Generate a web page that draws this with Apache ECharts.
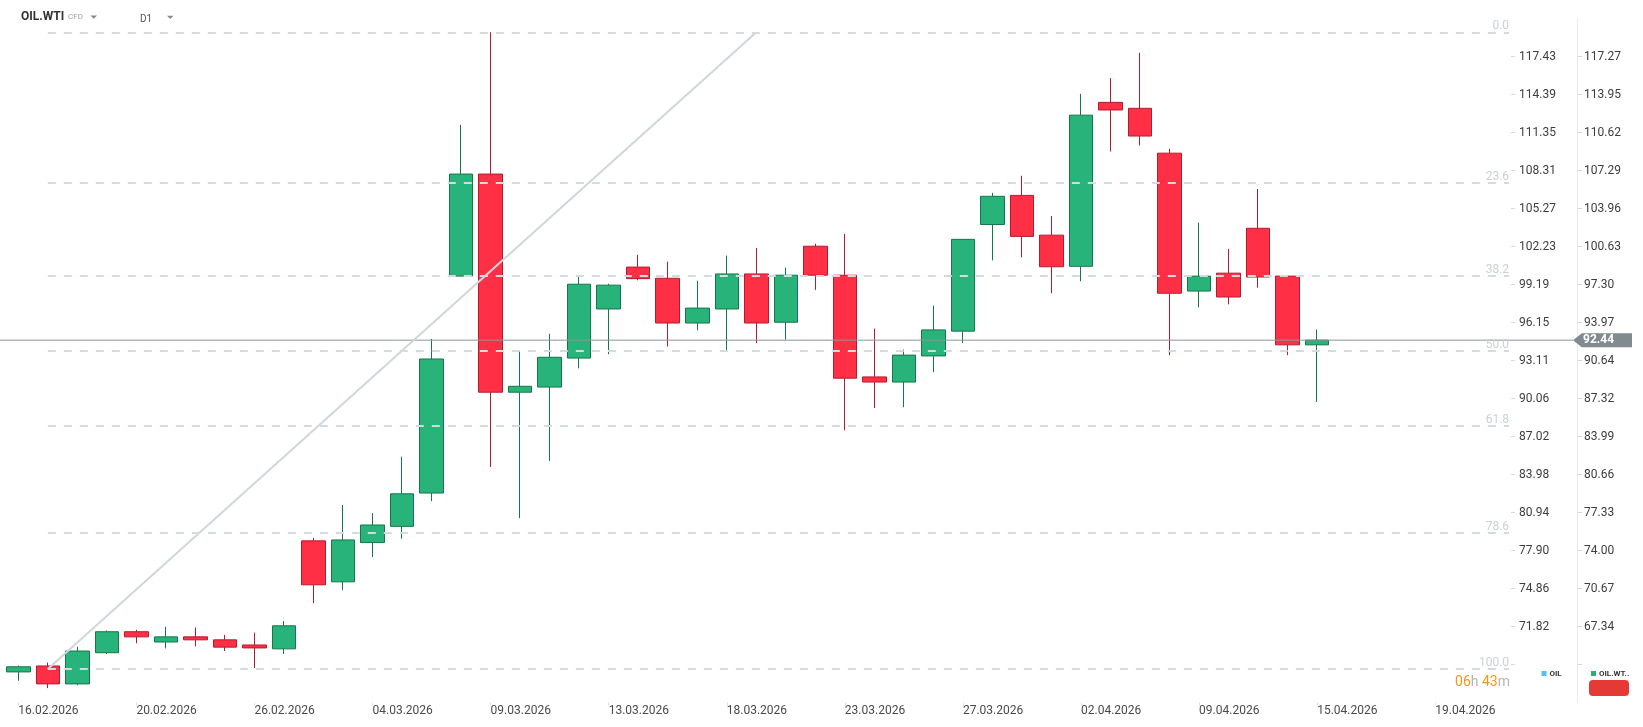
<!DOCTYPE html>
<html>
<head>
<meta charset="utf-8">
<script src="https://cdn.jsdelivr.net/npm/echarts@6/dist/echarts.min.js"></script>
<style>
html,body{margin:0;padding:0;background:#fff;}
#chart{width:1643px;height:727px;}
</style>
</head>
<body>
<div id="chart"></div>
<script>
// ---- data ----
const dates = ['16.02.2026','17.02.2026','18.02.2026','19.02.2026','20.02.2026','23.02.2026','24.02.2026','25.02.2026',
  '26.02.2026','27.02.2026','02.03.2026','03.03.2026','04.03.2026','05.03.2026','06.03.2026','08.03.2026',
  '09.03.2026','10.03.2026','11.03.2026','12.03.2026','13.03.2026','15.03.2026','16.03.2026','17.03.2026',
  '18.03.2026','19.03.2026','20.03.2026','22.03.2026','23.03.2026','24.03.2026','25.03.2026','26.03.2026',
  '27.03.2026','30.03.2026','31.03.2026','01.04.2026','02.04.2026','06.04.2026','07.04.2026','08.04.2026',
  '09.04.2026','10.04.2026','13.04.2026','14.04.2026','15.04.2026','16.04.2026','17.04.2026','18.04.2026',
  '19.04.2026','20.04.2026','21.04.2026'];
const opens  = [63.38,63.90,62.33,65.06,66.90,66.00,66.45,66.19,65.74,65.40,74.86,71.27,74.71,76.13,79.05,98.05,
  106.99,87.88,88.33,90.87,95.17,98.84,97.86,93.94,95.17,98.24,94.01,100.67,98.13,89.22,88.77,91.06,
  93.23,102.57,105.12,101.64,98.91,113.27,112.75,108.82,96.74,98.31,102.24,98.05,92.03];
const closes = [63.83,62.33,65.21,66.90,66.45,66.45,66.19,65.55,65.48,67.42,71.01,74.94,76.25,78.98,90.79,106.99,
  87.88,88.40,90.94,97.34,97.26,97.83,93.94,95.25,98.24,93.94,98.13,98.13,89.11,88.77,91.13,93.34,
  101.27,105.04,101.53,98.87,112.15,112.60,110.32,96.55,98.05,96.22,97.97,92.03,92.44];
const lows   = [62.60,61.96,62.22,64.95,65.89,65.44,65.62,65.21,63.72,64.95,69.40,70.56,73.44,75.05,78.34,98.05,
  81.33,76.84,81.86,89.97,91.21,97.68,91.88,93.30,91.58,92.18,92.48,96.85,84.55,86.49,86.57,89.63,
  92.18,99.43,99.70,96.55,97.60,108.97,109.49,91.13,95.32,95.58,97.04,91.13,87.02];
const highs  = [63.94,64.20,65.59,67.01,67.08,67.34,67.27,66.63,66.82,67.83,75.12,78.00,77.29,82.23,92.55,111.29,
  119.41,91.50,93.00,98.05,97.38,99.92,99.32,97.64,99.85,100.52,98.80,100.89,101.75,93.45,91.62,95.47,
  101.27,105.34,106.84,103.32,114.02,115.40,117.61,109.20,102.73,100.44,105.68,98.05,93.38];
const oilTicks = [68.78,71.82,74.86,77.90,80.94,83.98,87.02,90.06,93.11,96.15,99.19,102.23,105.27,108.31,111.35,114.39,117.43];
const wtiTicks = [64.01,67.34,70.67,74.00,77.33,80.66,83.99,87.32,90.64,93.97,97.30,100.63,103.96,107.29,110.62,113.95,117.27];
const fibLevels = [0, 23.6, 38.2, 50, 61.8, 78.6, 100];
const fibHigh = 119.41, fibLow = 63.63;
const trendStart = [1, 63.63], trendEnd = [25, 119.41];
const lastPrice = 92.44;

// ---- build ----
const candleData = closes.map((c, i) => [opens[i], c, lows[i], highs[i]]);
const fibPrice = p => fibHigh - p / 100 * (fibHigh - fibLow);
const font = 'Roboto, "Noto Sans", sans-serif';

const chart = echarts.init(document.getElementById('chart'), null, {renderer: 'canvas'});
chart.setOption({
  animation: false,
  backgroundColor: '#ffffff',
  textStyle: {fontFamily: font},
  grid: [
    {left: 3.54, right: 133.93, top: 18.7, bottom: 24.3, containLabel: false, outerBoundsMode: 'none'},
    {left: 0, right: 70, top: 18.7, bottom: 24.3, containLabel: false, outerBoundsMode: 'none'}
  ],
  legend: [
    {left: 1541.5, top: 669.5, itemWidth: 5, itemHeight: 5, padding: 0, selectedMode: false,
     data: [{name: 'OIL', icon: 'rect', itemStyle: {color: '#4fc3f7', borderWidth: 0}}],
     textStyle: {fontSize: 8, fontWeight: 'bold', color: '#333', fontFamily: font, padding: [0, 0, 0, -2]}},
    {left: 1591, top: 669.5, itemWidth: 5, itemHeight: 5, padding: 0, selectedMode: false,
     data: [{name: 'OIL.WTI', icon: 'rect', itemStyle: {color: '#26b276', borderWidth: 0}}],
     formatter: n => n.slice(0, 6) + '..',
     textStyle: {fontSize: 8, fontWeight: 'bold', color: '#333', fontFamily: font, padding: [0, 0, 0, -2]}}
  ],
  xAxis: [
    {type: 'category', gridIndex: 0, data: dates, boundaryGap: true,
     axisLine: {show: false, onZero: false},
     axisTick: {show: true, interval: 3, alignWithLabel: true, length: 3, lineStyle: {color: '#dedede'}},
     axisLabel: {interval: 3, align: 'left', margin: 2, color: '#4a4a4a', fontSize: 12, fontFamily: font},
     splitLine: {show: false}},
    {type: 'value', gridIndex: 0, min: -0.5, max: 50.5, show: false, axisTick: {show: false}, axisLine: {show: false, onZero: false}, axisLabel: {show: false}, splitLine: {show: false}},
    {type: 'value', gridIndex: 1, min: 0, max: 1, show: false, axisTick: {show: false}, axisLine: {show: false, onZero: false}, axisLabel: {show: false}, splitLine: {show: false}}
  ],
  yAxis: [
    {type: 'value', gridIndex: 0, position: 'right', offset: 2, min: 65.737, max: 120.4707, scale: true,
     axisLine: {show: false, onZero: false}, splitLine: {show: false},
     axisTick: {show: true, length: 4, customValues: oilTicks, lineStyle: {color: '#d9d9d9'}},
     axisLabel: {margin: 8, color: '#3d3d3d', fontSize: 12, fontFamily: font,
       customValues: oilTicks.slice(1), formatter: v => v.toFixed(2)}},
    {type: 'value', gridIndex: 0, position: 'right', offset: 68, min: 60.683, max: 120.5987, scale: true,
     axisLine: {show: true, onZero: false, lineStyle: {color: '#ececec', width: 1}}, splitLine: {show: false},
     axisTick: {show: true, length: 5, customValues: wtiTicks, lineStyle: {color: '#d9d9d9'}},
     axisLabel: {margin: 7, color: '#3d3d3d', fontSize: 12, fontFamily: font,
       customValues: wtiTicks.slice(1), formatter: v => v.toFixed(2)}},
    {type: 'value', gridIndex: 1, min: 60.683, max: 120.5987, scale: true, show: false,
     axisTick: {show: false}, axisLine: {show: false, onZero: false}, axisLabel: {show: false}, splitLine: {show: false}}
  ],
  series: [
    {name: 'OIL', type: 'line', xAxisIndex: 0, yAxisIndex: 0, data: [], itemStyle: {color: '#4fc3f7'}},
    {name: 'OIL.WTI', type: 'candlestick', xAxisIndex: 0, yAxisIndex: 1, data: candleData, barWidth: 24, z: 2,
     itemStyle: {color: '#28b37a', color0: '#ff3046', borderColor: '#15774a', borderColor0: '#b51c2e', borderWidth: 1}},
    {name: 'fib', type: 'line', xAxisIndex: 1, yAxisIndex: 1, data: [trendStart, trendEnd], z: 6,
     symbol: 'none', lineStyle: {color: '#cfd6dc', width: 2}, silent: true,
     markLine: {
       silent: true, symbol: ['none', 'none'], z: 7,
       lineStyle: {color: '#d3dae0', width: 2, type: [8, 8]},
       label: {show: true, position: 'insideEndTop', distance: [0, 0], color: '#c9d0d6', fontSize: 12, fontFamily: font},
       data: fibLevels.map(p => [
         {coord: [trendStart[0], fibPrice(p)], label: {formatter: p.toFixed(1)}},
         {coord: [50.5, fibPrice(p)]}
       ])
     }},
    {name: 'price', type: 'line', xAxisIndex: 2, yAxisIndex: 2, data: [[0, lastPrice], [1, lastPrice]], z: 5,
     symbol: 'none', silent: true, lineStyle: {color: '#8a959b', width: 1},
     markPoint: {
       silent: true,
       data: [{coord: [1, lastPrice]}],
       symbol: 'path://M0,7L9,0L60,0L60,14L9,14Z', symbolSize: [59, 14], symbolKeepAspect: false, symbolOffset: [29.5, 0],
       itemStyle: {color: '#808b90'},
       label: {show: true, position: 'inside', offset: [-4, 0], formatter: lastPrice.toFixed(2), color: '#fff', fontWeight: 'bold', fontSize: 12, fontFamily: font}
     }}
  ],
  graphic: [
    {type: 'text', left: 21, top: 11, style: {text: 'OIL.WTI', font: 'bold 12px ' + font, fill: '#333'}},
    {type: 'text', left: 68, top: 13, style: {text: 'CFD', font: '8px ' + font, fill: '#a0a0a0'}},
    {type: 'polygon', shape: {points: [[90.5, 15.5], [97, 15.5], [93.75, 18.8]]}, style: {fill: '#8a8a8a'}},
    {type: 'text', left: 140, top: 14.5, style: {text: 'D1', font: '10px ' + font, fill: '#555'}},
    {type: 'polygon', shape: {points: [[167, 15.8], [173.5, 15.8], [170.25, 19]]}, style: {fill: '#8a8a8a'}},
    {type: 'text', right: 133, top: 675, style: {
      text: '{o|06}{g|h }{o|43}{g|m}', font: '14px ' + font,
      rich: {o: {fill: '#f7941d', font: '14px ' + font}, g: {fill: '#b5b5b5', font: '14px ' + font}}}},
    {type: 'rect', shape: {x: 1589, y: 680, width: 40, height: 16, r: 4}, style: {fill: '#e53935'}}
  ]
});
</script>
</body>
</html>
